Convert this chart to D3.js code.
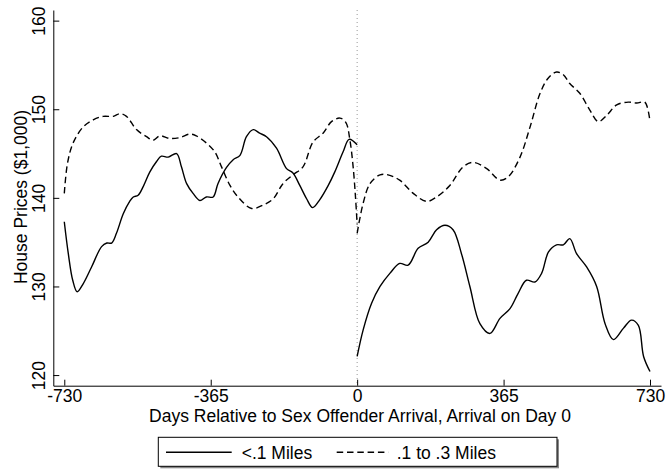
<!DOCTYPE html>
<html>
<head>
<meta charset="utf-8">
<script src="https://cdn.jsdelivr.net/npm/d3@7"></script>
<style>
  body { margin: 0; background: #fff; }
  text { font-family: "Liberation Sans", Arial, sans-serif; fill: #000; }
</style>
</head>
<body>
<div id="container"></div>
<script>
// days relative to arrival / house prices ($1,000)
const nearLeftDays = [-730,-720,-709,-698,-683,-662,-637,-624,-612,-600,-583,-567,-558,-546,-533,-517,-500,-488,-471,-450,-438,-425,-409,-392,-376,-359,-347,-326,-309,-292,-276,-259,-243,-226,-201,-176,-160,-143,-126,-111,-93,-72,-56,-35,-20,0];
const nearLeftPrice = [137.3,133.7,130.7,129.4,130.3,132.2,134.5,134.9,134.9,136.0,138.2,139.6,140.1,140.3,141.3,142.9,144.1,144.7,144.6,145.0,143.5,141.6,140.5,139.7,140.1,140.1,141.6,143.4,144.3,144.8,146.9,147.7,147.3,146.9,145.6,143.3,142.8,141.4,139.9,138.9,139.8,141.4,142.9,145.2,146.6,146.0];

const nearRightDays = [0,15,36,57,82,106,127,152,177,198,219,239,260,281,306,331,356,381,401,422,443,460,477,497,514,530,547,572,597,618,639,664,684,701,714,730];
const nearRightPrice = [122.1,125.1,128.1,130.0,131.5,132.6,132.4,134.3,135.0,136.4,136.9,136.4,133.7,130.0,125.8,124.7,126.4,127.5,129.2,130.7,130.5,131.5,133.9,134.7,134.7,135.4,133.7,132.2,130.0,125.8,124.0,125.3,126.2,125.6,122.1,120.4];

const farLeftDays = [-730,-722,-708,-683,-658,-633,-608,-591,-575,-550,-525,-509,-492,-467,-442,-417,-401,-376,-355,-338,-317,-297,-263,-234,-209,-185,-160,-135,-110,-85,-64,-43,-28,-18,-10,-4,0];
const farLeftPrice = [140.5,143.9,146.2,148.0,148.8,149.2,149.2,149.5,149.2,147.7,146.9,146.5,147.0,146.7,146.8,147.2,147.0,146.2,145.2,143.5,141.4,140.1,138.8,139.2,139.9,141.6,142.6,143.5,146.3,147.3,148.6,149.0,148.5,146.5,143.5,140.0,137.0];

const farRightDays = [0,15,32,57,77,106,140,173,198,231,264,289,323,356,377,406,431,456,476,497,514,530,555,580,601,622,647,676,697,717,730];
const farRightPrice = [136.0,139.4,141.6,142.6,142.6,142.0,140.5,139.6,140.1,141.4,143.5,144.0,143.3,142.0,142.4,144.6,148.0,151.8,153.5,154.2,153.9,152.9,151.8,149.9,148.6,149.3,150.5,150.8,150.7,150.8,148.6];

const xTicks = [-730, -365, 0, 365, 730];
const yTicks = [120, 130, 140, 150, 160];
const seriesNames = ["<.1 Miles", ".1 to .3 Miles"];

const width = 666;
const height = 470;
const fontSize = 17.5;
const dashes = "6.5,3.8";

const svg = d3.select("#container")
	.append("svg")
		.attr("width", width)
		.attr("height", height);

const scaleX = d3.scaleLinear()
	.domain([-757.4, 757.4])
	.range([53.3, 661]);

const scaleY = d3.scaleLinear()
	.domain([118.8, 161.2])
	.range([385.7, 10]);

const lineBuilder = d3.line()
	.x((d) => scaleX(d[0]))
	.y((d) => scaleY(d[1]))
	.curve(d3.curveCatmullRom);

// arrival day reference line
svg.append("line")
	.attr("x1", scaleX(0))
	.attr("x2", scaleX(0))
	.attr("y1", scaleY(161.2))
	.attr("y2", scaleY(118.8))
	.style("stroke", "#999")
	.style("stroke-width", 1)
	.style("stroke-dasharray", "1,3");

const series = [
	{ days: nearLeftDays, price: nearLeftPrice, dash: null },
	{ days: nearRightDays, price: nearRightPrice, dash: null },
	{ days: farLeftDays, price: farLeftPrice, dash: dashes },
	{ days: farRightDays, price: farRightPrice, dash: dashes }
];

svg.selectAll(".series")
	.data(series)
	.enter()
	.append("path")
		.attr("class", "series")
		.attr("d", (s) => lineBuilder(s.days.map((d, i) => [d, s.price[i]])))
		.style("fill", "none")
		.style("stroke", "#000")
		.style("stroke-width", 1.4)
		.style("stroke-dasharray", (s) => s.dash);

// x axis, ticks point into the plot
const xAxis = svg.append("g")
	.attr("transform", `translate(0, ${scaleY(118.8)})`)
	.call(d3.axisBottom(scaleX)
		.tickValues(xTicks)
		.tickFormat((d) => String(d))
		.tickSize(-6).tickSizeOuter(0).tickPadding(4));

xAxis.selectAll("text")
	.style("font-size", fontSize + "px")
	.style("font-family", "Liberation Sans, Arial, sans-serif");

// y axis with rotated labels
const yAxis = svg.append("g")
	.attr("transform", `translate(${scaleX(-757.4)}, 0)`)
	.call(d3.axisLeft(scaleY).tickValues(yTicks).tickSize(-6).tickSizeOuter(0));

yAxis.selectAll("text")
	.attr("x", 0)
	.attr("y", -8.3)
	.attr("dy", 0)
	.attr("text-anchor", "middle")
	.attr("transform", "rotate(-90)")
	.style("font-size", fontSize + "px")
	.style("font-family", "Liberation Sans, Arial, sans-serif");

svg.selectAll(".domain, .tick line")
	.style("stroke", "#000")
	.style("stroke-width", 1);

svg.append("text")
	.attr("transform", `translate(26.5, 197) rotate(-90)`)
	.attr("text-anchor", "middle")
	.style("font-size", fontSize + "px")
	.text("House Prices ($1,000)");

svg.append("text")
	.attr("x", 360)
	.attr("y", 422)
	.attr("text-anchor", "middle")
	.style("font-size", fontSize + "px")
	.text("Days Relative to Sex Offender Arrival, Arrival on Day 0");

// legend
const legend = svg.append("g");

legend.append("rect")
	.attr("x", 160.3)
	.attr("y", 439.3)
	.attr("width", 398.7)
	.attr("height", 29)
	.style("fill", "#888");

legend.append("rect")
	.attr("x", 158.3)
	.attr("y", 437.3)
	.attr("width", 398.7)
	.attr("height", 29)
	.style("fill", "#fff")
	.style("stroke", "#000")
	.style("stroke-width", 1);

const legendItems = [
	{ name: seriesNames[0], x1: 166, x2: 231.7, tx: 241.7, dash: null },
	{ name: seriesNames[1], x1: 336.7, x2: 388.3, tx: 396.7, dash: dashes }
];

const items = legend.selectAll(".item")
	.data(legendItems)
	.enter()
	.append("g")
		.attr("class", "item");

items.append("line")
	.attr("x1", (d) => d.x1)
	.attr("x2", (d) => d.x2)
	.attr("y1", 452.3)
	.attr("y2", 452.3)
	.style("stroke", "#000")
	.style("stroke-width", 1.4)
	.style("stroke-dasharray", (d) => d.dash);

items.append("text")
	.attr("x", (d) => d.tx)
	.attr("y", 458.5)
	.style("font-size", fontSize + "px")
	.text((d) => d.name);
</script>
</body>
</html>
